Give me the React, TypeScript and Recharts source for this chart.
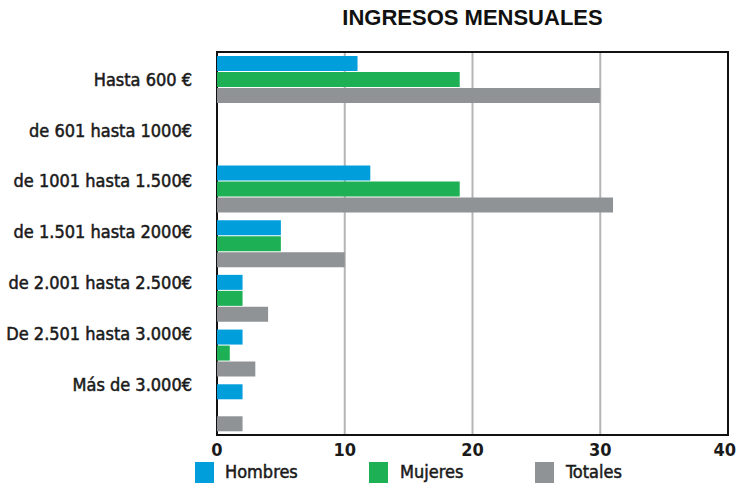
import React from "react";
import { BarChart, Bar, XAxis, YAxis, CartesianGrid, ReferenceArea } from "recharts";

const categories = [
  "Hasta 600 €",
  "de 601 hasta 1000€",
  "de 1001 hasta 1.500€",
  "de 1.501 hasta 2000€",
  "de 2.001 hasta 2.500€",
  "De 2.501 hasta 3.000€",
  "Más de 3.000€",
];
const hombres = [11, 0, 12, 5, 2, 2, 2];
const mujeres = [19, 0, 19, 5, 2, 1, 0];
const totales = [30, 0, 31, 10, 4, 3, 2];
const xTicks = [0, 10, 20, 30, 40];
const seriesNames = ["Hombres", "Mujeres", "Totales"];
const colors = ["#009FDC", "#1EB055", "#8F9396"];

const data = categories.map((name, i) => ({
  name,
  Hombres: hombres[i],
  Mujeres: mujeres[i],
  Totales: totales[i],
}));

const FONT = "'DejaVu Sans Condensed', 'DejaVu Sans', sans-serif";

const YTick = (props: any) => {
  const { x, y, payload, index } = props;
  return (
    <text
      x={x}
      y={y - 3.9 * index}
      dy="0.36em"
      textAnchor="end"
      fill="#1a1a1a"
      stroke="#1a1a1a"
      strokeWidth={0.5}
      fontFamily={FONT}
      fontSize={18}
    >
      {payload.value}
    </text>
  );
};

const XTick = (props: any) => {
  const { x, y, payload, index } = props;
  const last = index === xTicks.length - 1;
  return (
    <text
      x={last ? x + 8 : x}
      y={y}
      dy="0.71em"
      textAnchor={last ? "end" : "middle"}
      fill="#1a1a1a"
      fontFamily={FONT}
      fontWeight="bold"
      fontSize={18}
    >
      {payload.value}
    </text>
  );
};

const legendPos = [
  { sq: 195, tx: 225 },
  { sq: 369, tx: 400 },
  { sq: 535, tx: 566 },
];

export default function App() {
  return (
    <div style={{ position: "absolute", left: 0, top: 0, width: 736, height: 483, background: "#fff" }}>
      <div
        style={{
          position: "absolute",
          left: 217,
          width: 511,
          top: 7,
          textAlign: "center",
          fontFamily: "'Liberation Sans', Arial, sans-serif",
          fontWeight: "bold",
          fontSize: 22,
          lineHeight: "22px",
          color: "#111",
        }}
      >
        INGRESOS MENSUALES
      </div>
      <BarChart
        width={736}
        height={483}
        data={data}
        layout="vertical"
        margin={{ top: 52, right: 8, left: 0, bottom: 18 }}
        barSize={15}
        barGap={1}
      >
        <CartesianGrid horizontal={false} vertical stroke="#B5B5B5" strokeWidth={2} />
        <XAxis
          type="number"
          domain={[0, 40]}
          ticks={xTicks}
          height={30}
          axisLine={false}
          tickLine={false}
          tickSize={0}
          tickMargin={8}
          tick={<XTick />}
          interval={0}
        />
        <YAxis
          type="category"
          dataKey="name"
          width={217}
          axisLine={false}
          tickLine={false}
          tickSize={0}
          tickMargin={25}
          tick={<YTick />}
          interval={0}
        />
        {seriesNames.map((s, i) => (
          <Bar key={s} dataKey={s} fill={colors[i]} isAnimationActive={false} />
        ))}
        <ReferenceArea x1={0} x2={40} fill="none" stroke="#111" strokeWidth={2} fillOpacity={0} ifOverflow="visible" />
      </BarChart>
      {seriesNames.map((s, i) => (
        <React.Fragment key={s}>
          <div
            style={{
              position: "absolute",
              left: legendPos[i].sq,
              top: 462,
              width: 19,
              height: 21,
              background: colors[i],
            }}
          />
          <div
            style={{
              position: "absolute",
              left: legendPos[i].tx,
              top: 463,
              fontFamily: FONT,
              fontSize: 18,
              lineHeight: "18px",
              color: "#1a1a1a",
              WebkitTextStroke: "0.5px #1a1a1a",
              whiteSpace: "nowrap",
            }}
          >
            {s}
          </div>
        </React.Fragment>
      ))}
    </div>
  );
}
